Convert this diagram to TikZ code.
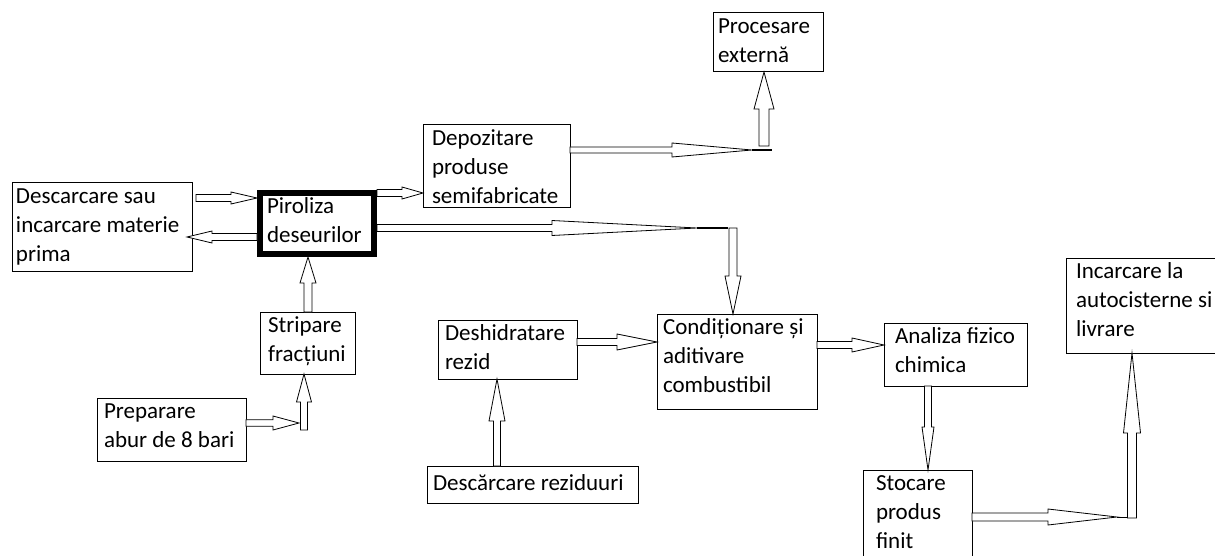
\documentclass[tikz,border=0pt]{standalone}
\usepackage{fontspec}
\setmainfont{Carlito}
\usetikzlibrary{calc}
\tikzset{
  box/.style={draw, line width=1pt, anchor=north west, inner sep=0pt, outer sep=0pt,
    font=\fontsize{23}{29}\selectfont},
  thickbox/.style={line width=6pt, outer sep=3pt},
  barr/.style={draw, line width=0.8pt, fill=white, line join=miter},
  joinline/.style={line width=1.6pt},
}
% name, x, y, w, h, left pad, vertical alignment, extra style, text
\newcommand{\bx}[9]{\node[box,#8] (#1) at (#2,#3)
  {\hspace*{#6pt}\parbox[c][#5pt][#7]{\dimexpr#4pt-#6pt\relax}{\raggedright\strut #9}};}
% head length, head half width, shaft half width, start, end
\newcommand{\barrow}[5]{%
  \coordinate (ba-s) at #4;
  \coordinate (ba-e) at #5;
  \coordinate (ba-h) at ($(ba-e)!#1pt!(ba-s)$);
  \draw[barr] ($(ba-s)!#3pt!90:(ba-e)$) -- ($(ba-h)!#3pt!90:(ba-e)$)
    -- ($(ba-h)!#2pt!90:(ba-e)$) -- (ba-e) -- ($(ba-h)!#2pt!-90:(ba-e)$)
    -- ($(ba-h)!#3pt!-90:(ba-e)$) -- ($(ba-s)!#3pt!-90:(ba-e)$) -- cycle;}
\begin{document}
\begin{tikzpicture}[x=1pt,y=-1pt]
\path[use as bounding box, clip] (0,0) rectangle (1215,556);
\fill[white] (0,0) rectangle (1215,556);

% boxes
\bx{desc}{12}{183}{180}{88}{4}{t}{}{Descarcare sau\\incarcare materie\\prima}
\bx{pir}{257}{190}{114}{61}{7}{t}{thickbox}{Piroliza\\deseurilor}
\bx{dep}{423}{125}{147}{83}{9}{t}{}{Depozitare\\produse\\semifabricate}
\bx{proc}{713}{13}{110}{59}{5}{t}{}{Procesare\\externă}
\bx{strip}{260}{312}{95}{62}{8}{t}{}{Stripare\\fracțiuni}
\bx{prep}{97}{398}{149}{63}{7}{t}{}{Preparare\\abur de 8 bari}
\bx{desh}{438}{320}{139}{59}{7}{t}{}{Deshidratare\\rezid}
\bx{rez}{427}{466}{211}{37}{6}{c}{}{Descărcare reziduuri}
\bx{cond}{657}{314}{160}{95}{6}{t}{}{Condiționare și\\aditivare\\combustibil}
\bx{anal}{884}{323}{143}{63}{11}{t}{}{Analiza fizico\\chimica}
\bx{inc}{1066}{258}{160}{95}{10}{t}{}{Incarcare la\\autocisterne si\\livrare}
\bx{stoc}{863}{470}{109}{100}{13}{t}{}{Stocare\\produs\\finit}

% bend points
\coordinate (k1) at (764,150);
\coordinate (k2) at (733,228);
\coordinate (k3) at (304,423);
\coordinate (k4) at (1132,517);

% a: raw material -> pyrolysis
\coordinate (a1) at ($(desc.north east)+(4,15)$);
\barrow{26}{6}{3.5}{(a1)}{(pir.west |- a1)}
% b: pyrolysis -> raw material
\coordinate (b1) at ($(desc.north east)+(-5,54)$);
\barrow{25}{6}{3.5}{(pir.west |- b1)}{(b1)}
% c: pyrolysis -> storage of semi-products
\coordinate (c1) at ($(pir.north east)+(0,3)$);
\barrow{21}{6}{3.5}{(c1)}{(dep.west |- c1)}
% d, e: storage -> external processing
\coordinate (d1) at ($(k1)+(-12,0)$);
\barrow{80}{7}{3}{(dep.east |- k1)}{(d1)}
\draw[joinline] (d1) -- ($(k1)+(8,0)$);
\barrow{37}{10}{5}{($(k1)+(0,-4)$)}{(proc.south -| k1)}
% f, g: pyrolysis -> conditioning
\coordinate (f1) at ($(k2)+(-36,0)$);
\barrow{145}{7.5}{3.5}{(pir.east |- k2)}{(f1)}
\draw[joinline] (f1) -- ($(k2)+(-5,0)$);
\barrow{38}{8}{4}{(k2)}{(cond.north -| k2)}
% h: stripping -> pyrolysis
\coordinate (h1) at ($(strip.north)+(0.5,0)$);
\barrow{26}{8}{4}{(h1)}{(pir.south -| h1)}
% i: steam -> stripping
\barrow{26}{7}{3.3}{(prep.east |- k3)}{($(k3)+(-5,0)$)}
\barrow{28}{7.5}{3.5}{($(k3)+(0,7)$)}{(strip.south -| k3)}
% j: residue discharge -> dehydration
\coordinate (j1) at ($(desh.south)+(-10.5,0)$);
\barrow{42}{8}{3.5}{(rez.north -| j1)}{(j1)}
% k: dehydration -> conditioning
\coordinate (k5) at ($(desh.east)+(0,-7.5)$);
\barrow{40}{8}{3.5}{(k5)}{(cond.west |- k5)}
% l: conditioning -> analysis
\coordinate (l1) at ($(cond.east)+(0,-16.5)$);
\barrow{32}{7}{3.5}{(l1)}{(anal.west |- l1)}
% m: analysis -> storage
\coordinate (m1) at ($(anal.south)+(-27.5,0)$);
\barrow{43}{6}{3.5}{(m1)}{(stoc.north -| m1)}
% n, o: storage -> loading
\coordinate (n1) at ($(k4)+(-15,0)$);
\barrow{69}{8}{4}{(stoc.east |- k4)}{(n1)}
\draw[line width=0.8pt] (n1) -- ($(k4)+(-4.5,0)$);
\barrow{80}{8.5}{4.5}{($(k4)+(0,1)$)}{(inc.south -| k4)}
\end{tikzpicture}
\end{document}
